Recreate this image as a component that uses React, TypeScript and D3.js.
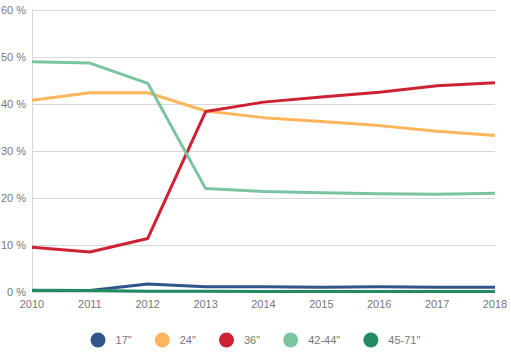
import * as d3 from "d3";
import { useEffect, useRef } from "react";

const years = [2010, 2011, 2012, 2013, 2014, 2015, 2016, 2017, 2018];
const seriesNames = ['17"', '24"', '36"', "42-44\"", "45-71\""];
const seriesColors = ["#30558a", "#ffb55c", "#cc2233", "#7ac4a0", "#218c62"];

const s17 = [0.35, 0.3, 1.7, 1.1, 1.1, 1.0, 1.1, 1.0, 1.0];
const s24 = [40.8, 42.4, 42.4, 38.5, 37.1, 36.3, 35.4, 34.2, 33.3];
const s36 = [9.5, 8.5, 11.4, 38.4, 40.4, 41.5, 42.5, 43.9, 44.5];
const s4244 = [49.0, 48.7, 44.4, 22.0, 21.4, 21.1, 20.9, 20.8, 21.0];
const s4571 = [0.3, 0.3, 0.15, 0.15, 0.1, 0.1, 0.1, 0.1, 0.1];
const seriesValues = [s17, s24, s36, s4244, s4571];

const yTicks = [0, 10, 20, 30, 40, 50, 60];

const width = 511;
const height = 352;
const margin = { top: 10, right: 16, bottom: 60, left: 32 };

export default function App() {
  const ref = useRef<SVGSVGElement | null>(null);

  useEffect(() => {
    const svg = d3.select(ref.current);
    svg.selectAll("*").remove();

    const x = d3
      .scaleLinear()
      .domain([years[0], years[years.length - 1]])
      .range([margin.left, width - margin.right]);
    const y = d3
      .scaleLinear()
      .domain([0, 60])
      .range([height - margin.bottom, margin.top]);

    const font = "Liberation Sans, Arial, sans-serif";

    // grid
    svg
      .append("g")
      .selectAll("line")
      .data(yTicks)
      .join("line")
      .attr("x1", margin.left)
      .attr("x2", width - margin.right)
      .attr("y1", (d) => y(d) + 0.5)
      .attr("y2", (d) => y(d) + 0.5)
      .attr("stroke", "#d8d8d8");

    svg
      .append("line")
      .attr("x1", margin.left + 0.5)
      .attr("x2", margin.left + 0.5)
      .attr("y1", y(60))
      .attr("y2", y(0))
      .attr("stroke", "#d8d8d8");

    svg
      .append("g")
      .selectAll("text")
      .data(yTicks)
      .join("text")
      .attr("x", margin.left - 6)
      .attr("y", (d) => y(d))
      .attr("dy", "0.35em")
      .attr("text-anchor", "end")
      .attr("font-family", font)
      .attr("font-size", 11)
      .attr("fill", "#777")
      .text((d) => `${d} %`);

    svg
      .append("g")
      .selectAll("text")
      .data(years)
      .join("text")
      .attr("x", (d) => x(d))
      .attr("y", y(0) + 12.5)
      .attr("dy", "0.35em")
      .attr("text-anchor", "middle")
      .attr("font-family", font)
      .attr("font-size", 11)
      .attr("fill", "#777")
      .text((d) => d);

    const line = d3
      .line<number>()
      .x((_, i) => x(years[i]))
      .y((d) => y(d));

    svg
      .append("g")
      .selectAll("path")
      .data(seriesValues)
      .join("path")
      .attr("d", (d) => line(d))
      .attr("fill", "none")
      .attr("stroke", (_, i) => seriesColors[i])
      .attr("stroke-width", 3)
      .attr("stroke-linejoin", "round");

    // legend, centred
    const legend = svg.append("g");
    const items = legend
      .selectAll("g")
      .data(seriesNames)
      .join("g");
    items
      .append("circle")
      .attr("r", 7.5)
      .attr("cx", 7.5)
      .attr("cy", 0)
      .attr("fill", (_, i) => seriesColors[i]);
    items
      .append("text")
      .attr("x", 25)
      .attr("y", 0)
      .attr("dy", "0.35em")
      .attr("font-family", font)
      .attr("font-size", 11)
      .attr("fill", "#777")
      .text((d) => d);

    let offset = 0;
    const positions: number[] = [];
    items.each(function () {
      positions.push(offset);
      const w = (this as SVGGElement).getBBox().width;
      offset += w + 23;
    });
    const total = offset - 23;
    const start = (width - total) / 2;
    items.attr("transform", (_, i) => `translate(${start + positions[i]},${height - 12})`);
  }, []);

  return (
    <svg
      ref={ref}
      width={width}
      height={height}
      style={{ position: "absolute", left: 0, top: 0, background: "#fff" }}
    />
  );
}
